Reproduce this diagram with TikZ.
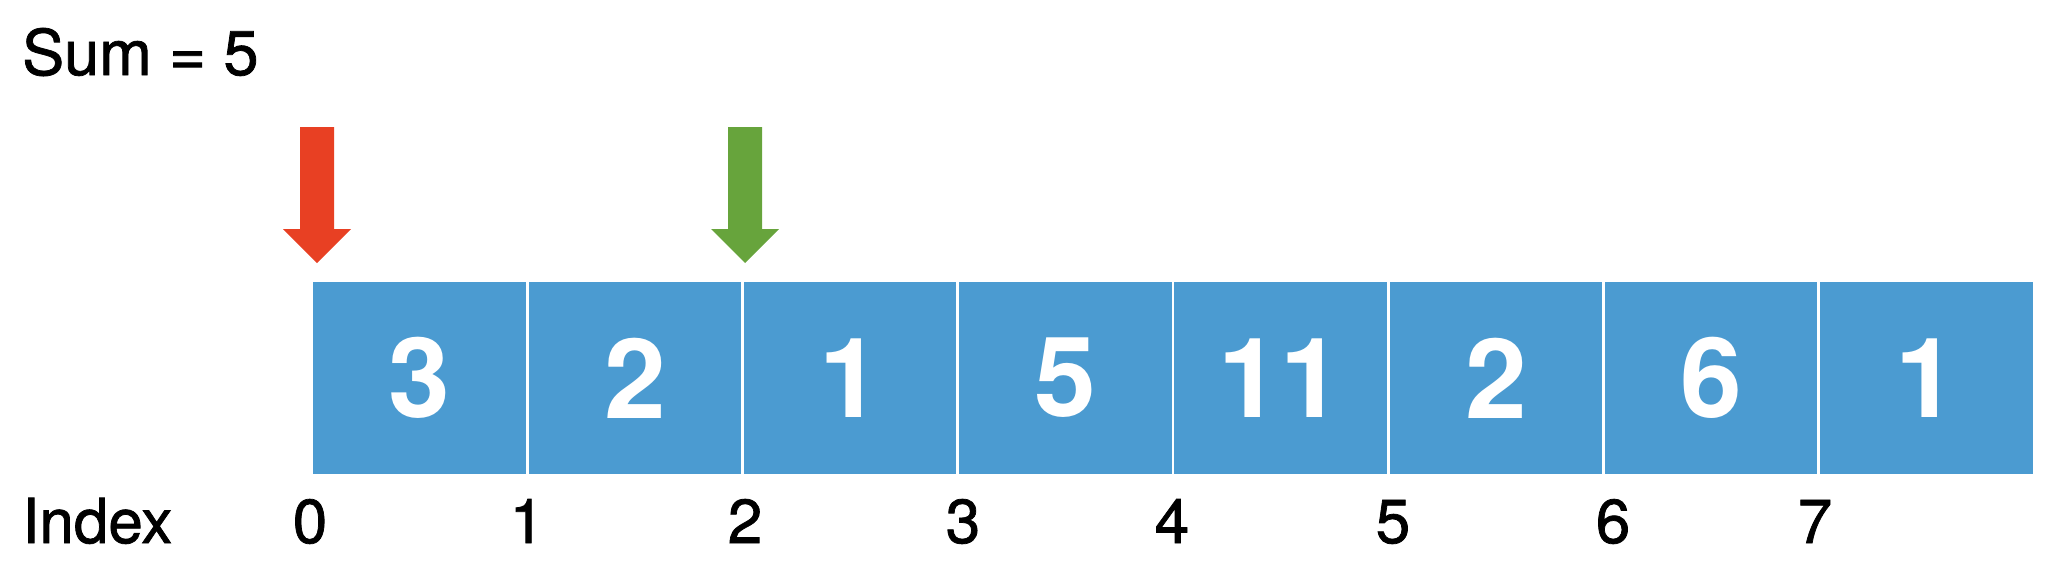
\documentclass[tikz,border=0pt]{standalone}
\usepackage{fontspec}
\setmainfont{TeX Gyre Heros}
\newfontfamily\labelfont[FakeBold=1.2]{TeX Gyre Heros}
\definecolor{cellblue}{HTML}{4B9BD1}
\definecolor{ptrred}{HTML}{E84023}
\definecolor{ptrgreen}{HTML}{67A43C}
\tikzset{
  cell/.style={fill=cellblue, draw=none, minimum width=212.5pt, minimum height=192pt, inner sep=0pt,
    text=white, font=\bfseries\fontsize{111}{120}\selectfont},
  idx/.style={anchor=base, inner sep=0pt, font=\labelfont\fontsize{62}{70}\selectfont},
  lbl/.style={anchor=base west, inner sep=0pt, font=\labelfont\fontsize{62}{70}\selectfont},
}
\begin{document}
\begin{tikzpicture}[x=1pt,y=-1pt]
\useasboundingbox (0,0) rectangle (2062,582);
% title
\node[lbl, font=\labelfont\fontsize{63}{75}\selectfont] (sum) at (22,75) {Sum = 5};
% cells
\foreach \v [count=\i from 0] in {3,2,1,5,11,2,6,1} {
  \node[cell] (c\i) at ({312+215.25*\i+107.625},378) {\v};
}
% index labels
\node[lbl] (index) at (22,543) {Index};
\foreach \x [count=\i from 0] in {310,527,745,963,1172,1393,1613,1815} {
  \node[idx] (i\i) at (\x,543) {\i};
}
% pointer arrows
\coordinate (redtip) at (317,263);
\fill[ptrred] (300,127) -- (334,127) -- (334,229) -- (351,229) -- (redtip) -- (283,229) -- (300,229) -- cycle;
\coordinate (greentip) at (745,263);
\fill[ptrgreen] (728,127) -- (762,127) -- (762,229) -- (779,229) -- (greentip) -- (711,229) -- (728,229) -- cycle;
\end{tikzpicture}
\end{document}
